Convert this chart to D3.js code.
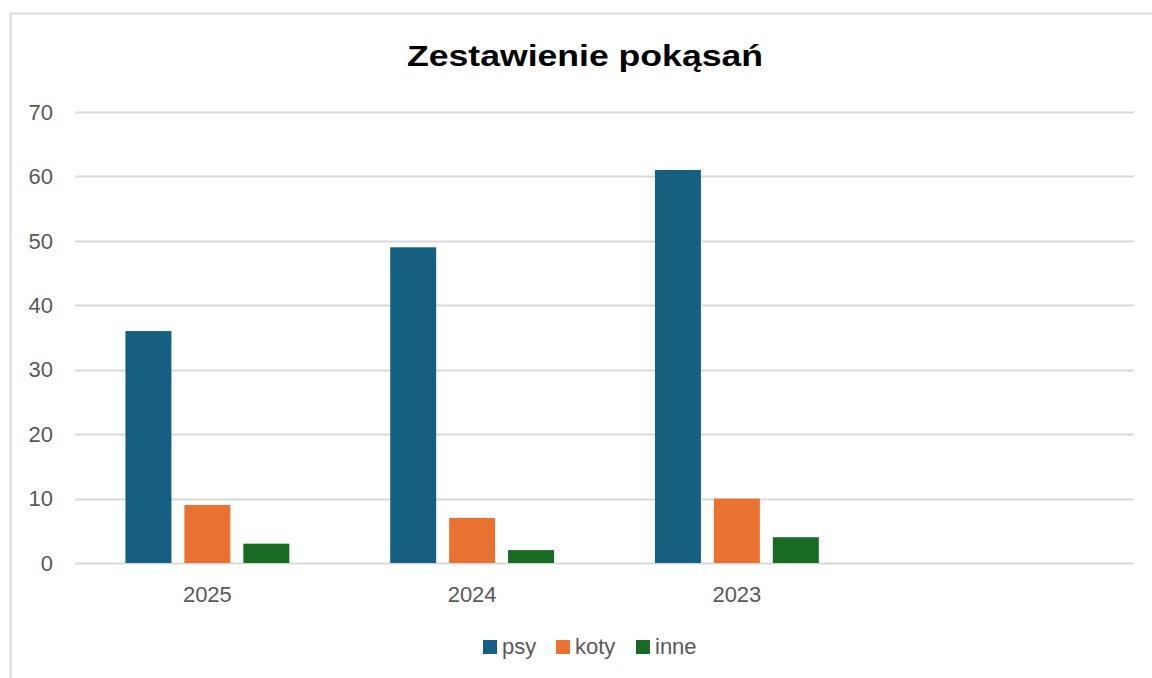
<!DOCTYPE html>
<html>
<head>
<meta charset="utf-8">
<script src="https://cdn.jsdelivr.net/npm/d3@7"></script>
<style>
  body { margin: 0; background: #fff; }
  svg { display: block; font-family: "Liberation Sans", Arial, sans-serif; }
</style>
</head>
<body>
<div id="chart"></div>
<script>
// data
const years = ['2025', '2024', '2023', ''];   // last category is empty in the original
const series = ['psy', 'koty', 'inne'];
const psy  = [36, 49, 61];
const koty = [9, 7, 10];
const inne = [3, 2, 4];
const colors = ['#156082', '#e97132', '#196b24'];
const yTicks = [0, 10, 20, 30, 40, 50, 60, 70];

const W = 1152, H = 678;
const plot = { left: 75, right: 1134, top: 112, bottom: 563 };

const svg = d3.select('#chart').append('svg')
  .attr('width', W)
  .attr('height', H);

// chart frame (cut off on the right and bottom like the screenshot)
svg.append('path')
  .attr('d', `M10.5,${H + 2} V13.5 H${W + 2}`)
  .attr('fill', 'none')
  .attr('stroke', '#d9d9d9')
  .attr('stroke-width', 2);

// the original font is wider, so stretch to its measured width
svg.append('text')
  .attr('x', 407)
  .attr('y', 66)
  .attr('textLength', 356)
  .attr('lengthAdjust', 'spacingAndGlyphs')
  .style('font-size', '30px')
  .style('font-weight', 'bold')
  .attr('fill', '#000')
  .text('Zestawienie pokąsań');

const y = d3.scaleLinear().domain([0, 70]).range([plot.bottom, plot.top]);
const x0 = d3.scaleBand().domain(years).range([plot.left, plot.right]).padding(0);
const x1 = d3.scaleBand().domain(series).range([0, x0.bandwidth()])
  .paddingInner(0.22).paddingOuter(0.856);

// gridlines
svg.append('g')
  .selectAll('line')
  .data(yTicks)
  .join('line')
  .attr('x1', plot.left)
  .attr('x2', plot.right)
  .attr('y1', d => Math.round(y(d)) + 0.5)
  .attr('y2', d => Math.round(y(d)) + 0.5)
  .attr('stroke', '#d9d9d9')
  .attr('stroke-width', 2);

// y labels
svg.append('g')
  .selectAll('text')
  .data(yTicks)
  .join('text')
  .attr('x', 53)
  .attr('y', d => y(d))
  .attr('dy', '0.35em')
  .attr('text-anchor', 'end')
  .attr('fill', '#595959')
  .style('font-size', '22px')
  .text(d => d);

// bars
const values = { psy, koty, inne };
const rows = [];
series.forEach((s, si) => {
  values[s].forEach((v, i) => rows.push({ year: years[i], s, v, color: colors[si] }));
});

svg.append('g')
  .selectAll('rect')
  .data(rows)
  .join('rect')
  .attr('x', d => x0(d.year) + x1(d.s))
  .attr('y', d => y(d.v))
  .attr('width', x1.bandwidth())
  .attr('height', d => y(0) - y(d.v))
  .attr('fill', d => d.color);

// x labels
svg.append('g')
  .selectAll('text')
  .data(years.filter(d => d))
  .join('text')
  .attr('x', d => x0(d) + x0.bandwidth() / 2)
  .attr('y', 602)
  .attr('text-anchor', 'middle')
  .attr('fill', '#595959')
  .style('font-size', '22px')
  .text(d => d);

// legend
const legendX = [483, 556, 636];
const lg = svg.append('g')
  .selectAll('g')
  .data(series)
  .join('g')
  .attr('transform', (d, i) => `translate(${legendX[i]},640)`);

lg.append('rect')
  .attr('width', 14)
  .attr('height', 14)
  .attr('fill', (d, i) => colors[i]);

lg.append('text')
  .attr('x', 19)
  .attr('y', 14)
  .attr('fill', '#595959')
  .style('font-size', '22px')
  .text(d => d);
</script>
</body>
</html>
